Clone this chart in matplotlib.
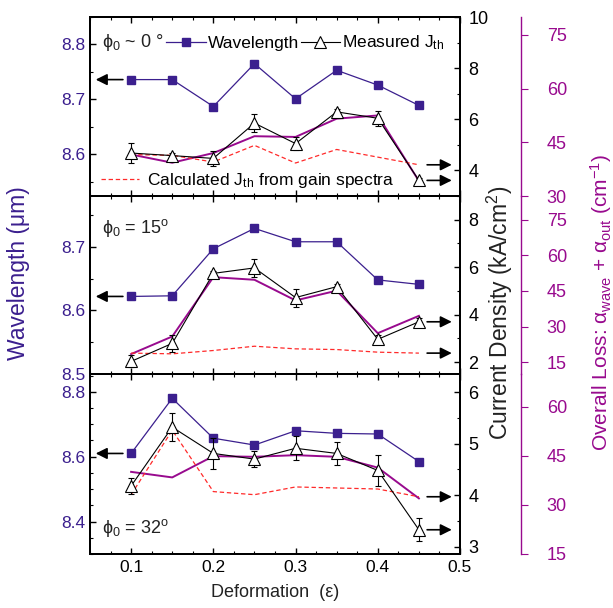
import matplotlib.pyplot as plt
from matplotlib.lines import Line2D
from matplotlib.ticker import MultipleLocator

plt.rcParams['font.family'] = ['Liberation Sans', 'DejaVu Sans']
plt.rcParams['mathtext.fontset'] = 'custom'
plt.rcParams['mathtext.rm'] = 'Liberation Sans'
plt.rcParams['mathtext.it'] = 'Liberation Sans:italic'
plt.rcParams['mathtext.bf'] = 'Liberation Sans:bold'

# deformation values (x)
deform = [0.10, 0.15, 0.20, 0.25, 0.30, 0.35, 0.40, 0.45]

# wavelength (um), one list per panel
wl_0 = [8.736, 8.736, 8.687, 8.765, 8.701, 8.753, 8.726, 8.689]
wl_15 = [8.622, 8.623, 8.697, 8.729, 8.708, 8.708, 8.648, 8.641]
wl_32 = [8.610, 8.780, 8.657, 8.636, 8.680, 8.672, 8.670, 8.585]

# measured threshold current density (kA/cm2) and error
jm_0 = [4.68, 4.58, 4.47, 5.85, 5.05, 6.29, 6.04, 3.61]
jm_15 = [2.03, 2.79, 5.74, 5.97, 4.72, 5.18, 2.96, 3.70]
jm_32 = [4.18, 5.32, 4.81, 4.70, 4.91, 4.81, 4.48, 3.33]
err_0 = [0.39, 0.12, 0.30, 0.35, 0.27, 0.12, 0.30, 0.10]
err_15 = [0.25, 0.35, 0.10, 0.38, 0.38, 0.10, 0.20, 0.15]
err_32 = [0.16, 0.27, 0.30, 0.15, 0.23, 0.23, 0.30, 0.22]

# calculated Jth from gain spectra (kA/cm2)
jc_0 = [4.62, 4.59, 4.33, 4.98, 4.29, 4.82, 4.52, 4.22]
jc_15 = [2.38, 2.35, 2.49, 2.67, 2.56, 2.53, 2.42, 2.38]
jc_32 = [4.01, 5.26, 4.07, 4.01, 4.16, 4.14, 4.12, 3.97]

# overall loss (cm-1)
loss_0 = [41.6, 39.3, 42.0, 46.7, 46.5, 51.6, 52.5, 34.2]
loss_15 = [18.4, 25.8, 50.8, 49.7, 41.0, 45.1, 27.2, 34.5]
loss_32 = [40.1, 38.4, 44.9, 44.7, 45.2, 44.7, 41.4, 32.0]

panel_labels = [r'ϕ$_0$ ~ 0 °', r'ϕ$_0$ = 15$^{\mathrm{o}}$', r'ϕ$_0$ = 32$^{\mathrm{o}}$']

wl_all = [wl_0, wl_15, wl_32]
jm_all = [jm_0, jm_15, jm_32]
err_all = [err_0, err_15, err_32]
jc_all = [jc_0, jc_15, jc_32]
loss_all = [loss_0, loss_15, loss_32]

# axis settings per panel
wl_lims = [(8.524, 8.85), (8.5, 8.78), (8.30, 8.855)]
wl_major = [0.1, 0.1, 0.2]
j_lims = [(3, 10), (1.5, 9.0), (2.86, 6.35)]
j_major = [2, 2, 1]
loss_lims = [(30, 80), (10, 85), (15, 70)]
label_y = [0.855, 0.82, 0.144]

wl_c = '#3b1f8e'
loss_c = '#980a8e'
red_c = '#ff2a2a'

W, H = 613, 608
fig = plt.figure(figsize=(W / 100, H / 100), dpi=100)
edges = [17, 196, 374, 554]

arrow = dict(arrowstyle='-|>', color='k', lw=1.2, mutation_scale=17, shrinkA=0, shrinkB=0)

for i in range(3):
    top, bot = edges[i], edges[i + 1]
    ax = fig.add_axes([90 / W, 1 - bot / H, 370 / W, (bot - top) / H])
    aj = ax.twinx()
    al = ax.twinx()
    ax.set_zorder(0)
    al.set_zorder(1)
    aj.set_zorder(2)

    for s in ax.spines.values():
        s.set_linewidth(1.4)
    for s in aj.spines.values():
        s.set_linewidth(1.4)
    for k in ['left', 'top', 'bottom']:
        al.spines[k].set_visible(False)
    al.spines['right'].set_position(('outward', 44))
    al.spines['right'].set_color(loss_c)
    al.spines['right'].set_linewidth(1.0)

    # wavelength
    ax.plot(deform, wl_all[i], '-s', color=wl_c, lw=0.9, ms=6)
    ax.set_xlim(0.05, 0.5)
    ax.set_ylim(*wl_lims[i])
    ax.xaxis.set_major_locator(MultipleLocator(0.1))
    ax.xaxis.set_minor_locator(MultipleLocator(0.025))
    ax.yaxis.set_major_locator(MultipleLocator(wl_major[i]))
    ax.yaxis.set_minor_locator(MultipleLocator(0.05))
    ax.tick_params(which='both', direction='in', top=True)
    ax.tick_params(which='major', length=4, width=1)
    ax.tick_params(which='minor', length=2.5, width=0.8)
    ax.tick_params(axis='y', labelcolor=wl_c, labelsize=12.5, pad=3.5)
    ax.tick_params(axis='x', labelsize=12.5, pad=4.5, labelbottom=(i == 2))

    # loss
    al.plot(deform, loss_all[i], '-', color=loss_c, lw=1.4)
    al.set_ylim(*loss_lims[i])
    al.yaxis.set_major_locator(MultipleLocator(15))
    al.tick_params(axis='y', colors=loss_c, direction='out', length=5, width=0.8,
                   pad=13.5, labelsize=13)

    # current density
    aj.plot(deform, jc_all[i], color=red_c, lw=0.9, dashes=(3.5, 2.2))
    aj.errorbar(deform, jm_all[i], yerr=err_all[i], fmt='-^', color='k', mfc='white',
                mec='k', ms=8, mew=0.8, lw=0.8, elinewidth=0.8, capsize=2.5)
    aj.set_ylim(*j_lims[i])
    aj.yaxis.set_major_locator(MultipleLocator(j_major[i]))
    aj.yaxis.set_minor_locator(MultipleLocator(j_major[i] / 2))
    aj.tick_params(axis='y', which='both', direction='in')
    aj.tick_params(axis='y', which='major', length=4, width=1, pad=6, labelsize=13)
    aj.tick_params(axis='y', which='minor', length=2.5, width=0.8)

    # arrows pointing to the axes
    ax.annotate('', xy=(0.057, wl_all[i][0]), xytext=(0.09, wl_all[i][0]), arrowprops=arrow)
    aj.annotate('', xy=(0.49, jc_all[i][-1]), xytext=(0.46, jc_all[i][-1]), arrowprops=arrow)
    aj.annotate('', xy=(0.49, jm_all[i][-1]), xytext=(0.46, jm_all[i][-1]), arrowprops=arrow)

    aj.text(0.033, label_y[i], panel_labels[i], transform=aj.transAxes, fontsize=13,
            ha='left', va='center', color='#222222')

    if i == 0:
        h1 = Line2D([], [], color=wl_c, lw=0.9, marker='s', ms=6)
        h2 = Line2D([], [], color='k', lw=0.8, marker='^', ms=8, mfc='white', mew=0.8)
        leg = aj.legend([h1, h2], ['Wavelength', r'Measured J$_{\mathrm{th}}$'], ncol=2,
                        loc='center left', bbox_to_anchor=(0.205, 0.855), frameon=False,
                        fontsize=12.5, handlelength=2.3, handletextpad=0.1,
                        columnspacing=0.1, borderpad=0, borderaxespad=0)
        aj.add_artist(leg)
        h3 = Line2D([], [], color=red_c, lw=0.9, dashes=(3.5, 2.2))
        aj.legend([h3], [r'Calculated J$_{\mathrm{th}}$ from gain spectra'],
                  loc='center left', bbox_to_anchor=(0.03, 0.084), frameon=False,
                  fontsize=12.5, handlelength=2.2, handletextpad=0.45,
                  borderpad=0, borderaxespad=0)
    if i == 2:
        ax.set_xlabel('Deformation  (ε)', fontsize=13, labelpad=6, color='#222222')

fig.text(18.5 / W, 1 - 273 / H, 'Wavelength (μm)', rotation=90, ha='center', va='center',
         fontsize=16.5, color=wl_c)
fig.text(500 / W, 1 - 313 / H, r'Current Density (kA/cm$^2$)', rotation=90, ha='center',
         va='center', fontsize=16.5, color='#222222')
fig.text(601 / W, 1 - 302 / H,
         r'Overall Loss: α$_{\mathrm{wave}}$ + α$_{\mathrm{out}}$ (cm$^{-1}$)',
         rotation=90, ha='center', va='center', fontsize=15, color=loss_c)

fig.savefig('out.png', dpi=100)
